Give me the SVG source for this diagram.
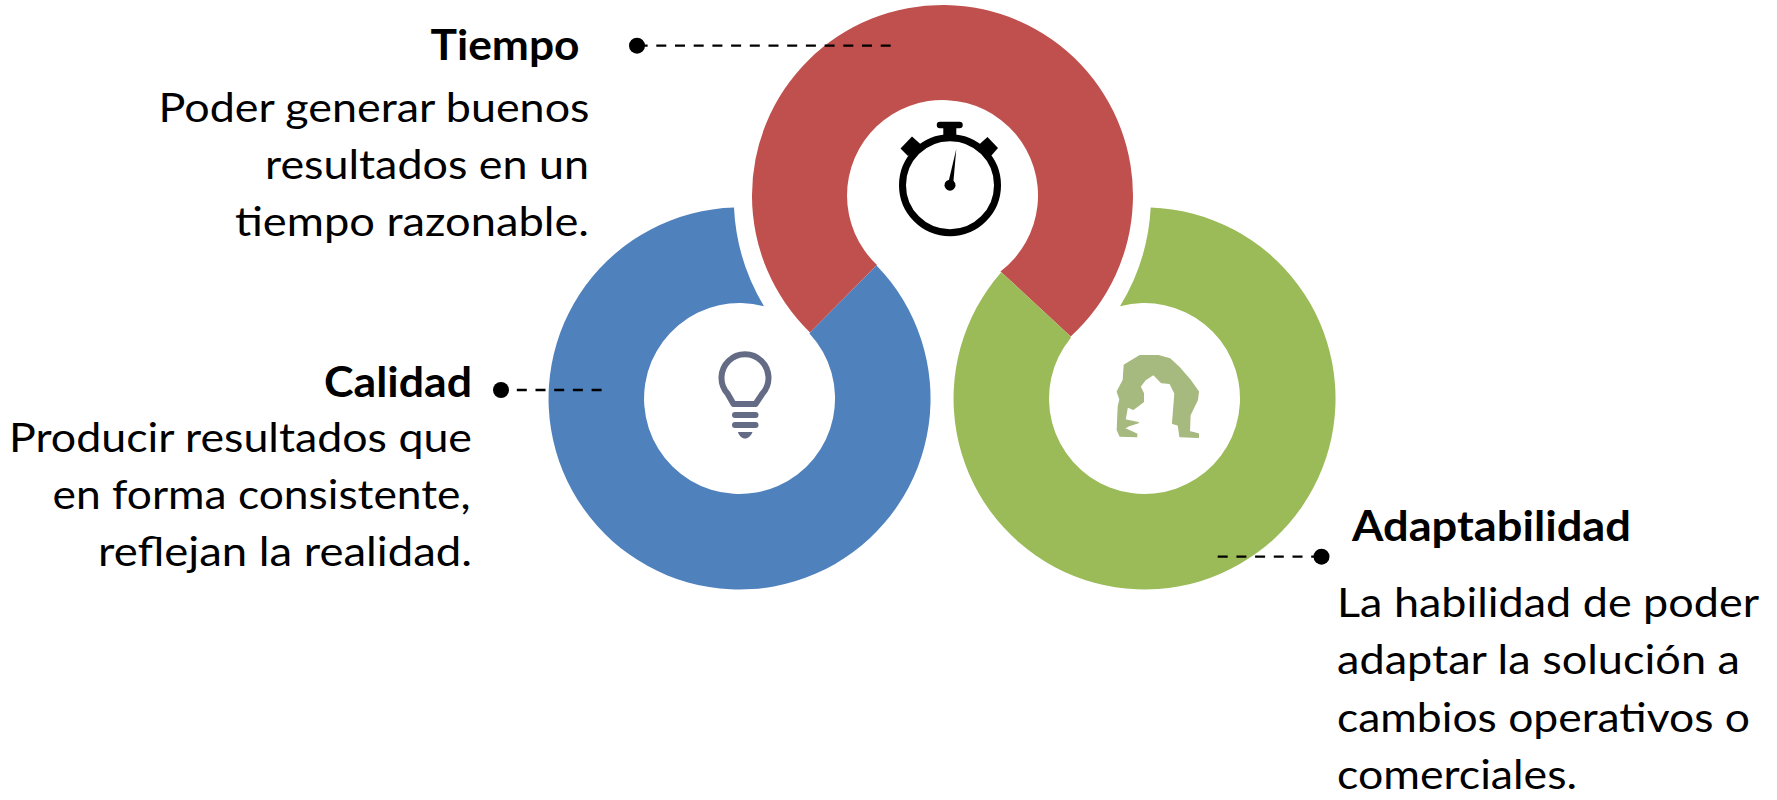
<svg xmlns="http://www.w3.org/2000/svg" width="1777" height="800" viewBox="0 0 1777 800">
<style>
text{font-family:Lato,"Noto Sans",sans-serif;fill:#000;font-size:40px}
.h{font-weight:700;font-size:42px}
.lead{stroke:#000;stroke-width:2.3;stroke-dasharray:10 8.7;fill:none}
.dot{fill:#000}
</style>
<rect width="1777" height="800" fill="#fff"/>
<g id="node-tiempo">
<path fill="#C0504D" d="M810 332.400A190.500 190.500 0 1 1 1070.700 336.400L1000.500 271.400A95.500 95.500 0 1 0 877 265Z"/>
<g id="icon-stopwatch">
<circle cx="950" cy="185.200" r="47.500" fill="none" stroke="#000" stroke-width="7"/>
<path fill="#000" d="M940 121.700H959.500A3.200 3.200 0 0 1 959.500 128.200H956.300V140H943.300V128.200H940A3.200 3.200 0 0 1 940 121.700Z"/>
<path fill="#000" d="M912 136.500L922 145.500L908 156L900.500 148.500Z"/>
<path fill="#000" d="M987.500 137L998 148L991 156L978 145.500Z"/>
<circle cx="950" cy="185.200" r="5.500" fill="#000"/>
<path fill="#000" d="M956.300 149L953 186H947.500Z"/>
</g>
<text class="h" x="430.500" y="60" textLength="149" lengthAdjust="spacingAndGlyphs">Tiempo</text>
<text x="158.500" y="122" textLength="431" lengthAdjust="spacingAndGlyphs">Poder generar buenos</text>
<text x="265" y="179" textLength="324" lengthAdjust="spacingAndGlyphs">resultados en un</text>
<text x="235" y="236" textLength="354" lengthAdjust="spacingAndGlyphs">tiempo razonable.</text>
</g>
<g id="node-calidad">
<path fill="#4F81BD" d="M734 207.600A191 191 0 1 0 877 265.900L877 265L810 332.400L809.500 333.500A95.500 95.500 0 1 1 764 306.200A209.500 209.500 0 0 1 734 207.600Z"/>
<g id="icon-bulb" fill="#636B85">
<path fill="none" stroke="#636B85" stroke-width="6" stroke-linejoin="round" d="M733.500 404L727.500 393.500A23.500 23.500 0 1 1 762.500 393.500L755.500 404Z"/>
<rect x="732" y="412" width="26.500" height="6" rx="3"/>
<rect x="732" y="422" width="26.500" height="6" rx="3"/>
<path d="M738 432H752.500C751 436 748 438.500 745 438.500C742 438.500 739 436 738 432Z"/>
</g>
<text class="h" x="324" y="397" textLength="148" lengthAdjust="spacingAndGlyphs">Calidad</text>
<text x="9" y="452" textLength="463" lengthAdjust="spacingAndGlyphs">Producir resultados que</text>
<text x="52.500" y="509" textLength="418" lengthAdjust="spacingAndGlyphs">en forma consistente,</text>
<text x="98" y="566" textLength="374" lengthAdjust="spacingAndGlyphs">reflejan la realidad.</text>
</g>
<g id="node-adaptabilidad">
<path fill="#9BBB59" d="M1150.700 207.600A191 191 0 1 1 1001 272.500L1000.500 271.400L1070.700 336.400L1070.700 337.900A95.500 95.500 0 1 0 1120 306.200A209 209 0 0 0 1150.700 207.600Z"/>
<path id="icon-figure" fill="#A6B97F" stroke="#A6B97F" stroke-width="4" stroke-linejoin="round" transform="translate(1090 340) scale(.3333)" d="M82 155L100 120L103 75L150 47L205 47L240 57L270 85L300 120L325 155L322 180L300 225L298 275L325 282L325 292L270 290L265 255L248 250L255 160L240 130L215 128L190 103L165 120L150 140L160 160L160 185L130 208L112 200L105 240L145 248L115 258L103 265L140 282L140 290L90 288L82 270L85 200L90 178Z"/>
<text class="h" x="1352" y="541" textLength="279" lengthAdjust="spacingAndGlyphs">Adaptabilidad</text>
<text x="1337" y="617" textLength="422" lengthAdjust="spacingAndGlyphs">La habilidad de poder</text>
<text x="1337" y="674" textLength="403" lengthAdjust="spacingAndGlyphs">adaptar la solución a</text>
<text x="1337" y="732" textLength="413" lengthAdjust="spacingAndGlyphs">cambios operativos o</text>
<text x="1337" y="789" textLength="240" lengthAdjust="spacingAndGlyphs">comerciales.</text>
</g>
<g id="connectors">
<path class="lead" d="M890.700 45.700H637"/>
<circle class="dot" cx="637" cy="45.700" r="8"/>
<path class="lead" d="M601.600 390H501"/>
<circle class="dot" cx="501" cy="390" r="8"/>
<path class="lead" d="M1217.700 556.700H1321.500"/>
<circle class="dot" cx="1321.500" cy="556.700" r="8"/>
</g>
</svg>
